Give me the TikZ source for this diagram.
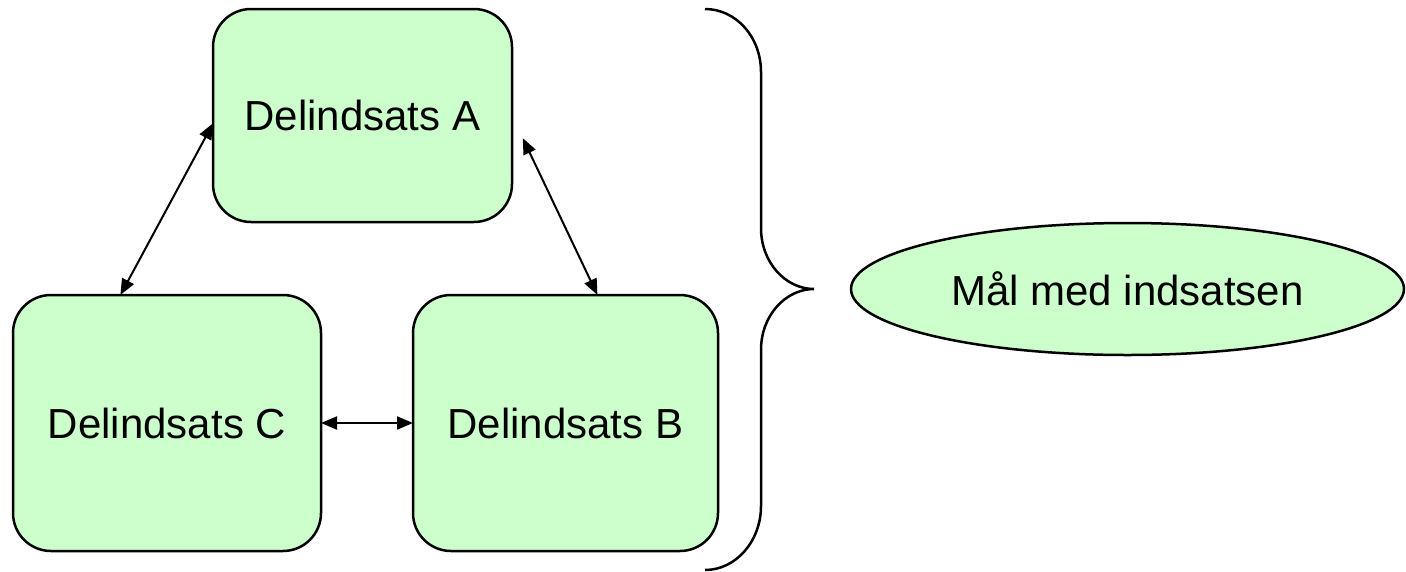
\documentclass[tikz,border=0pt]{standalone}
\usepackage{fontspec}
\setmainfont{Liberation Sans}
\usetikzlibrary{arrows.meta,positioning,shapes.geometric}
\definecolor{boxgreen}{HTML}{CCFFCC}

\begin{document}
\begin{tikzpicture}[x=1pt,y=-1pt,<->,>={Triangle[length=16pt,width=13pt]},line width=2pt,
	node distance=92pt,
	part node/.style={rectangle,rounded corners=38pt,fill=boxgreen,draw,line width=2.5pt,inner sep=0pt,outer sep=0pt,font=\fontsize{42}{50}\selectfont},
	goal node/.style={ellipse,fill=boxgreen,draw,line width=2.5pt,inner sep=0pt,outer sep=0pt,minimum width=553pt,minimum height=132pt,font=\fontsize{42}{50}\selectfont}]
	
	\useasboundingbox (0,0) rectangle (1406,571);
	
	\node[part node,minimum width=308pt,minimum height=256pt] (C) at (167,423) {Delindsats C};
	\node[part node,minimum width=305pt,minimum height=256pt] (B) [right=of C] {Delindsats B};
	\node[part node,minimum width=299pt,minimum height=213pt] (A) [above right=73pt and -108pt of C] {Delindsats A};
	
	\draw[-,line width=2.5pt] (705,9) .. controls (736,9) and (761,37) .. (761,72) -- (761,228)
		.. controls (761,263) and (786,289) .. (814,289) coordinate (tip)
		.. controls (786,289) and (761,315) .. (761,350) -- (761,506)
		.. controls (761,541) and (736,570) .. (705,570);
	\node[goal node] (goal) [right=37pt of tip] {Mål med indsatsen};
	
	\path
	(A.183) edge (C.110)
	(A.east) edge [shorten <=25pt] (B.76)
	(C.east) edge (B.west)
	;
\end{tikzpicture}
\end{document}
